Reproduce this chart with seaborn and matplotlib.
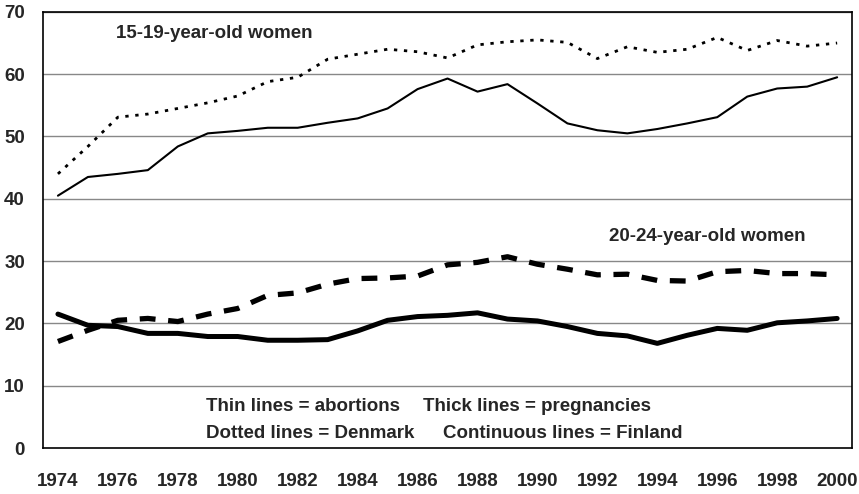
import numpy as np
import pandas as pd
import matplotlib
matplotlib.use("Agg")
import matplotlib.pyplot as plt
import seaborn as sns

years = list(range(1974, 2001))

# 15-19-year-old women (thin lines)
den_15_19 = [44.0, 48.4, 53.1, 53.6, 54.5, 55.4, 56.5, 58.8, 59.5, 62.4, 63.2, 64.0, 63.6,
             62.6, 64.7, 65.2, 65.5, 65.1, 62.5, 64.4, 63.5, 64.0, 65.9, 63.8, 65.4, 64.5, 65.0]
fin_15_19 = [40.5, 43.5, 44.0, 44.6, 48.4, 50.5, 50.9, 51.4, 51.4, 52.2, 52.9, 54.5, 57.6,
             59.3, 57.2, 58.4, 55.3, 52.1, 51.0, 50.5, 51.2, 52.1, 53.1, 56.4, 57.7, 58.0, 59.5]

# 20-24-year-old women (thick lines)
den_20_24 = [17.1, 18.9, 20.5, 20.8, 20.3, 21.5, 22.4, 24.5, 24.9, 26.3, 27.2, 27.3, 27.6,
             29.4, 29.8, 30.7, 29.5, 28.7, 27.8, 27.9, 26.9, 26.8, 28.3, 28.5, 28.0, 28.0, 27.8]
fin_20_24 = [21.5, 19.7, 19.5, 18.4, 18.4, 17.9, 17.9, 17.3, 17.3, 17.4, 18.8, 20.5, 21.1,
             21.3, 21.7, 20.7, 20.4, 19.5, 18.4, 18.0, 16.8, 18.1, 19.2, 18.9, 20.1, 20.4, 20.8]

y_ticks = [0, 10, 20, 30, 40, 50, 60, 70]
x_labels = list(range(1974, 2001, 2))

sns.set_style("white")
plt.rcParams['font.family'] = ['Liberation Sans', 'DejaVu Sans']
plt.rcParams['font.weight'] = 'bold'

fig = plt.figure(figsize=(8.59, 4.94), dpi=100)
ax = fig.add_axes([0.050, 0.093, 0.942, 0.883])

for y in y_ticks[1:]:
    ax.axhline(y, color="#888888", lw=1.0, zorder=0)

sns.lineplot(x=years, y=den_15_19, ax=ax, color="black", lw=2.0, linestyle=(0, (1.2, 2.4)))
sns.lineplot(x=years, y=fin_15_19, ax=ax, color="black", lw=1.5)
sns.lineplot(x=years, y=den_20_24, ax=ax, color="black", lw=3.8, linestyle=(0, (3.0, 2.4)))
sns.lineplot(x=years, y=fin_20_24, ax=ax, color="black", lw=3.6)

fs = 13.5
ax.set_xlim(1973.5, 2000.5)
ax.set_ylim(0, 70)
ax.set_yticks(y_ticks)
ax.set_yticklabels([str(v) for v in y_ticks], fontsize=fs, fontweight="bold")
ax.set_xticks(x_labels)
ax.set_xticklabels([str(x) for x in x_labels], fontsize=fs, fontweight="bold")
ax.set_xticks(np.arange(1973.5, 2001, 1), minor=True)
ax.tick_params(axis="x", which="major", length=0, pad=18)
ax.tick_params(axis="x", which="minor", length=5, width=1, color="black", direction="out")
ax.tick_params(axis="y", length=5, width=1, color="black", direction="out", pad=8)

for s in ax.spines.values():
    s.set_color("black")
    s.set_linewidth(1.2)

ax.text(1975.94, 66.5, "15-19-year-old women", fontsize=fs, fontweight="bold", va="center")
ax.text(1992.39, 34.0, "20-24-year-old women", fontsize=fs, fontweight="bold", va="center")
ax.text(1978.94, 6.6, "Thin lines = abortions", fontsize=fs, fontweight="bold", va="center")
ax.text(1986.18, 6.6, "Thick lines = pregnancies", fontsize=fs, fontweight="bold", va="center")
ax.text(1978.94, 2.4, "Dotted lines = Denmark", fontsize=fs, fontweight="bold", va="center")
ax.text(1986.85, 2.4, "Continuous lines = Finland", fontsize=fs, fontweight="bold", va="center")

ax.set_xlabel("")
ax.set_ylabel("")
fig.savefig("out.png", dpi=100)
